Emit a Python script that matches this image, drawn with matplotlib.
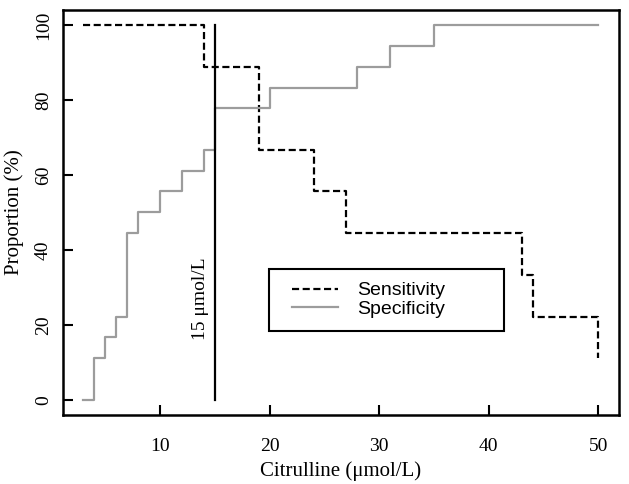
import matplotlib
matplotlib.use('Agg')
import matplotlib.pyplot as plt
from matplotlib.legend_handler import HandlerLine2D

# Data
sens_x = [3, 14, 19, 24, 27, 43, 44, 50]
sens_y = [100, 88.9, 66.7, 55.6, 44.4, 33.3, 22.2, 11.1]
spec_x = [3, 4, 5, 6, 7, 8, 10, 12, 14, 15, 20, 28, 31, 35, 50]
spec_y = [0, 11.1, 16.7, 22.2, 44.4, 50, 55.6, 61.1, 66.7, 77.8, 83.3, 88.9, 94.4, 100, 100]
cutoff = 15
x_ticks = [10, 20, 30, 40, 50]
y_ticks = [0, 20, 40, 60, 80, 100]

serif = ['Liberation Serif', 'DejaVu Serif']
sans = ['Liberation Sans', 'DejaVu Sans']

fig = plt.figure(figsize=(6.29, 4.84), dpi=100)
ax = fig.add_axes([0.100, 0.143, 0.884, 0.836])

l1, = ax.step(sens_x, sens_y, where='post', color='black', lw=1.6,
              linestyle=(0, (3.2, 1.6)), label='Sensitivity')
l2, = ax.step(spec_x, spec_y, where='post', color='#9c9c9c', lw=1.6,
              label='Specificity')
ax.plot([cutoff, cutoff], [0, 100], color='black', lw=1.6)
ax.text(13.7, 27, '15 \u03bcmol/L', rotation=90, ha='center', va='center',
        fontsize=14, family=serif)

ax.set_xlim(1.12, 51.88)
ax.set_ylim(-4, 104)
ax.set_xticks(x_ticks)
ax.set_yticks(y_ticks)
ax.tick_params(direction='in', length=7, width=1.5, labelsize=14)
ax.tick_params(axis='x', pad=17)
ax.tick_params(axis='y', pad=8)
for lab in ax.get_xticklabels() + ax.get_yticklabels():
    lab.set_family(serif)
for lab in ax.get_yticklabels():
    lab.set_rotation(90)
    lab.set_va('center')
for s in ax.spines.values():
    s.set_linewidth(1.8)

ax.set_xlabel('Citrulline (\u03bcmol/L)', fontsize=15, family=serif, labelpad=4)
ax.set_ylabel('Proportion (%)', fontsize=15, family=serif, labelpad=8)

leg = ax.legend(loc='upper left', bbox_to_anchor=(0.37, 0.207, 0.423, 0.153),
                mode='expand', fancybox=False, edgecolor='black',
                prop={'family': sans, 'size': 14}, handlelength=2.9,
                handletextpad=1.0, borderaxespad=0,
                borderpad=0.65, labelspacing=0.05, framealpha=1,
                handler_map={l1: HandlerLine2D(xpad=0.54),
                             l2: HandlerLine2D(xpad=0.54)})
leg.get_frame().set_linewidth(1.5)

plt.savefig('out.png', dpi=100)
